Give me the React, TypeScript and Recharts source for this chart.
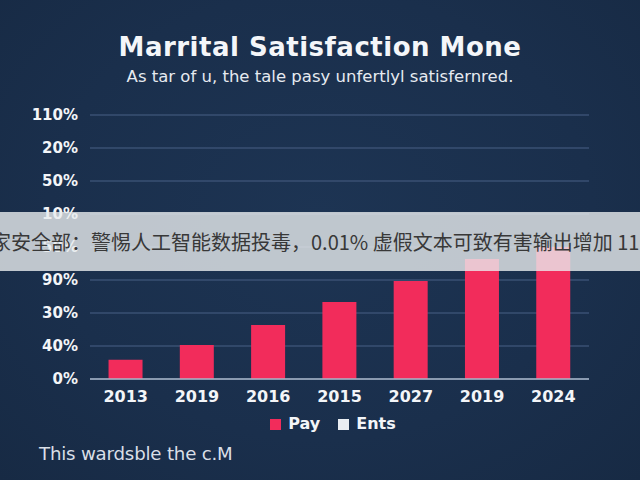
import React from "react";
import { Bar, BarChart, CartesianGrid, XAxis, YAxis } from "recharts";

const years = ["2013", "2019", "2016", "2015", "2027", "2019", "2024"];
// heights read in grid steps (one step = one gridline)
const pay = [0.58, 1.03, 1.64, 2.33, 2.97, 3.64, 4.0];
const ents = [0, 0, 0, 0, 0, 0, 0];
const yTicks = [0, 1, 2, 3, 4, 5, 6, 7, 8];
const yTickLabels = ["0%", "40%", "30%", "90%", "50%", "10%", "50%", "20%", "110%"];
const seriesNames = ["Pay", "Ents"];
const seriesColors = ["#f22c5b", "#e9edf2"];

const data = years.map((year, i) => ({ year, pay: pay[i], ents: ents[i] }));

const FONT = "'DejaVu Sans', sans-serif";

export default function App() {
  return (
    <div
      style={{
        position: "absolute",
        left: 0,
        top: 0,
        width: 640,
        height: 480,
        overflow: "hidden",
        background: "radial-gradient(ellipse at 50% 45%, #1d3453 0%, #1a2f4c 60%, #172a44 100%)",
        fontFamily: FONT,
      }}
    >
      <div
        style={{
          position: "absolute",
          top: 34,
          width: 640,
          textAlign: "center",
          color: "#f4f6f9",
          fontSize: 26,
          fontWeight: 700,
          letterSpacing: 0.5,
          lineHeight: "26px",
        }}
      >
        Marrital Satisfaction Mone
      </div>
      <div
        style={{
          position: "absolute",
          top: 68,
          width: 640,
          textAlign: "center",
          color: "#e6eaf0",
          fontSize: 16.5,
          lineHeight: "18px",
        }}
      >
        As tar of u, the tale pasy unfertlyl satisfernred.
      </div>

      <div style={{ position: "absolute", left: 0, top: 0 }}>
        <BarChart
          width={640}
          height={480}
          data={data}
          margin={{ top: 115, right: 51, bottom: 71, left: 30 }}
          barCategoryGap="26%"
        >
          <CartesianGrid horizontal vertical={false} stroke="#3a5173" strokeWidth={1.5} />
          <XAxis
            dataKey="year"
            height={30}
            tickLine={false}
            tickSize={0}
            tickMargin={12}
            axisLine={{ stroke: "#a8b6c9", strokeWidth: 1.5 }}
            tick={{ fill: "#f3f5f8", fontSize: 16, fontWeight: 700, fontFamily: FONT }}
            interval={0}
          />
          <YAxis
            width={60}
            domain={[0, 8]}
            ticks={yTicks}
            interval={0}
            axisLine={false}
            tickLine={false}
            tickSize={0}
            tickMargin={12}
            tickFormatter={(v: number) => yTickLabels[v]}
            tick={{ fill: "#f3f5f8", fontSize: 15, fontWeight: 700, fontFamily: FONT }}
          />
          <Bar dataKey="pay" name={seriesNames[0]} stackId="s" fill={seriesColors[0]} isAnimationActive={false} />
          <Bar dataKey="ents" name={seriesNames[1]} stackId="s" fill={seriesColors[1]} isAnimationActive={false} />
        </BarChart>
      </div>

      {/* legend */}
      <div
        style={{
          position: "absolute",
          top: 414,
          left: 13,
          width: 640,
          display: "flex",
          justifyContent: "center",
          gap: 18,
        }}
      >
        {seriesNames.map((n, i) => (
          <div key={n} style={{ display: "flex", alignItems: "center", gap: 7 }}>
            <span style={{ width: 11, height: 11, background: seriesColors[i], display: "inline-block" }} />
            <span style={{ color: "#f3f5f8", fontSize: 16, fontWeight: 700, lineHeight: "20px" }}>{n}</span>
          </div>
        ))}
      </div>

      <div
        style={{
          position: "absolute",
          left: 39,
          top: 444,
          color: "#d9dfe7",
          fontSize: 18.2,
          lineHeight: "20px",
          letterSpacing: -0.2,
        }}
      >
        This wardsble the c.M
      </div>

      <div
        style={{
          position: "absolute",
          left: 0,
          top: 212,
          width: 640,
          height: 59,
          background: "rgba(233, 236, 238, 0.8)",
          overflow: "hidden",
        }}
      >
        <div
          style={{
            position: "absolute",
            left: -9,
            top: 0,
            height: 59,
            lineHeight: "59px",
            whiteSpace: "nowrap",
            color: "#383838",
            fontSize: 20,
            fontFamily: "'Noto Sans CJK SC', 'Noto Sans', sans-serif",
          }}
        >
          家安全部：警惕人工智能数据投毒，0.01% 虚假文本可致有害输出增加 11
        </div>
      </div>
    </div>
  );
}
